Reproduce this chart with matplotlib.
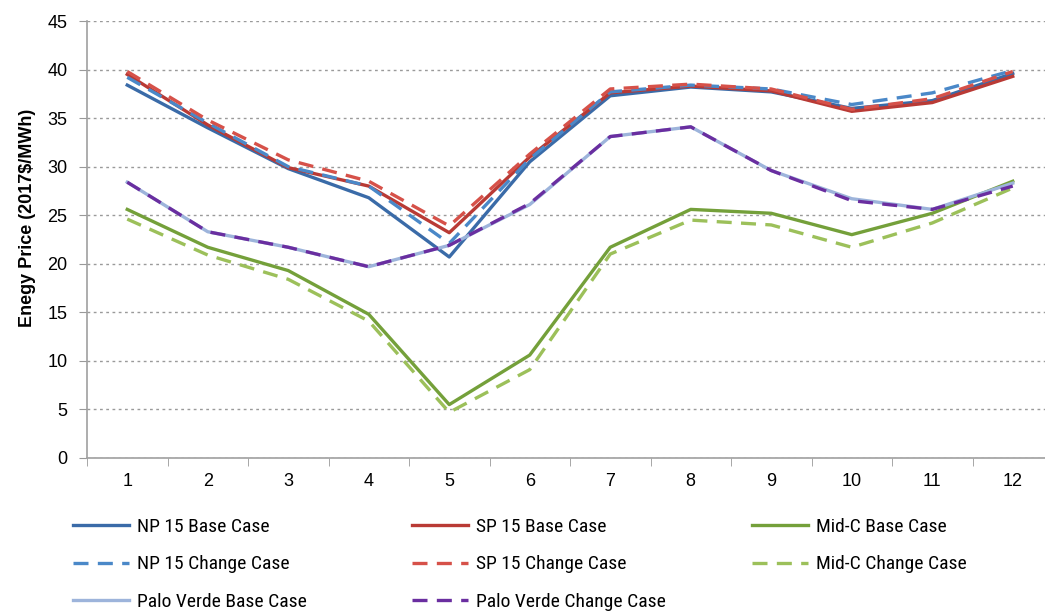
import matplotlib
matplotlib.use("Agg")
import matplotlib.pyplot as plt
from matplotlib import font_manager
import numpy as np

months = list(range(1, 13))

np15_base = [38.4, 34.0, 29.8, 26.8, 20.7, 30.5, 37.3, 38.2, 37.7, 36.0, 36.8, 39.6]
sp15_base = [39.5, 34.3, 29.9, 28.0, 23.2, 31.0, 37.6, 38.3, 37.8, 35.7, 36.6, 39.3]
midc_base = [25.6, 21.7, 19.3, 14.8, 5.5, 10.6, 21.7, 25.6, 25.2, 23.0, 25.2, 28.5]
np15_change = [39.2, 34.5, 30.0, 28.0, 22.1, 30.8, 37.7, 38.4, 38.0, 36.4, 37.6, 39.9]
sp15_change = [39.8, 34.8, 30.7, 28.5, 23.9, 31.3, 38.0, 38.5, 38.0, 35.9, 37.0, 39.8]
midc_change = [24.6, 20.9, 18.4, 14.1, 4.7, 9.1, 21.0, 24.5, 24.0, 21.7, 24.2, 27.8]
pv_base = [28.4, 23.3, 21.7, 19.7, 21.9, 26.1, 33.1, 34.1, 29.6, 26.7, 25.6, 28.3]
pv_change = [28.4, 23.3, 21.7, 19.7, 21.9, 26.2, 33.1, 34.1, 29.6, 26.5, 25.6, 28.0]

# narrow font for the legend if there is one
names = {f.name for f in font_manager.fontManager.ttflist}
legend_font = "DejaVu Sans"
for cand in ["Liberation Sans Narrow", "DejaVu Sans Condensed", "Roboto Condensed", "Open Sans Condensed"]:
    if cand in names:
        legend_font = cand
        break
plt.rcParams["font.family"] = ["Liberation Sans", "DejaVu Sans"]

fig = plt.figure(figsize=(10.45, 6.13), dpi=100)
ax = fig.add_axes([87 / 1045, (613 - 458) / 613, (1053 - 87) / 1045, (458 - 21) / 613])

dash = (0, (4.5, 2.8))
lw = 2.4
series = [
    ("NP 15 Base Case", np15_base, "#3A6BA8", "-"),
    ("SP 15 Base Case", sp15_base, "#B93A35", "-"),
    ("Mid-C Base Case", midc_base, "#74A03A", "-"),
    ("NP 15 Change Case", np15_change, "#4A88C8", dash),
    ("SP 15 Change Case", sp15_change, "#D65149", dash),
    ("Mid-C Change Case", midc_change, "#9CC05A", dash),
    ("Palo Verde Base Case", pv_base, "#9DB4DB", "-"),
    ("Palo Verde Change Case", pv_change, "#6A2EA0", dash),
]
handles = []
for label, vals, color, ls in series:
    h, = ax.plot(months, vals, color=color, linestyle=ls, lw=lw, label=label)
    handles.append(h)

ax.set_xlim(0.5, 12.5)
ax.set_ylim(0, 45)
ax.set_yticks(range(0, 46, 5))
ax.set_xticks(months)
ax.set_xticks(np.arange(0.5, 12.6, 1), minor=True)
ax.tick_params(axis="x", which="major", length=0, pad=11, labelsize=13)
ax.tick_params(axis="x", which="minor", length=6, color="#999999", direction="out")
ax.tick_params(axis="y", length=6, color="#999999", pad=8, labelsize=13)
ax.yaxis.grid(True, linestyle=(0, (2, 2.5)), color="#9a9a9a", lw=1)
ax.set_axisbelow(True)
for s in ["top", "right"]:
    ax.spines[s].set_visible(False)
for s in ["left", "bottom"]:
    ax.spines[s].set_color("#a0a0a0")
    ax.spines[s].set_linewidth(1.2)

fig.text(28 / 1045, 1 - 218 / 613, "Enegy Price (2017$/MWh)", rotation=90,
         ha="center", va="center", fontsize=13, fontweight="bold")

# legend: three columns, each its own legend so the x positions match
columns = [[0, 3, 6], [1, 4, 7], [2, 5]]
col_x = [73, 412, 752]
for idx, x0 in zip(columns, col_x):
    leg = fig.legend([handles[i] for i in idx], [series[i][0] for i in idx],
                     loc="upper left", bbox_to_anchor=(x0 / 1045, 1 - 518 / 613),
                     frameon=False, handlelength=2.9, handletextpad=0.4,
                     labelspacing=1.0, borderpad=0, borderaxespad=0,
                     prop={"family": legend_font, "size": 14})

fig.savefig("out.png", dpi=100)
